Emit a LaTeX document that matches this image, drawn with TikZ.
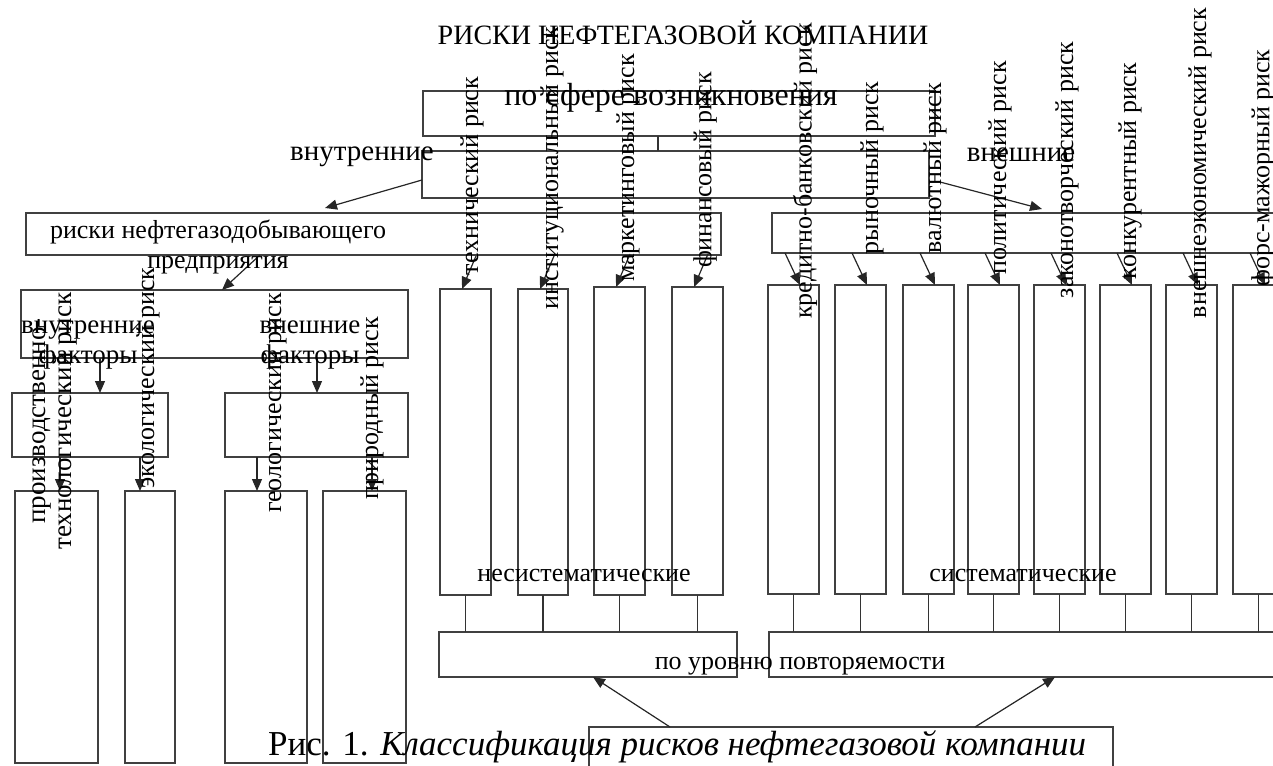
\documentclass[tikz,border=0pt]{standalone}
\usepackage{fontspec}
\setmainfont{Liberation Serif}
\usetikzlibrary{arrows.meta,calc}
\tikzset{
  box/.style={draw=black!75, line width=1.4pt, inner sep=0pt, outer sep=0pt, anchor=north west},
  arr/.style={draw=black!85, line width=1.2pt, -{Triangle[length=12pt,width=10pt]}},
  ln/.style={draw=black!80, line width=1.3pt},
  txt/.style={font=\fontsize{26}{30}\selectfont, inner sep=0pt, align=center},
  vtxt/.style={txt, rotate=90},
}
\newcommand{\bx}[5]{\node[box, minimum width=#4-#2, minimum height=#5-#3] (#1) at (#2,#3) {};}
\begin{document}
\begin{tikzpicture}[x=1pt,y=-1pt]
\useasboundingbox (0,0) rectangle (1273,765);
\clip (0,0) rectangle (1273,765);
% boxes
\bx{A}{423}{91}{935}{136}
\bx{B}{422}{151}{929}{198}
\bx{L}{26}{213}{721}{255}
\bx{R}{772}{213}{1290}{253}
\bx{F}{21}{290}{408}{358}
\bx{FL}{12}{393}{168}{457}
\bx{FR}{225}{393}{408}{457}
\bx{b1}{15}{491}{98}{763}
\bx{b2}{125}{491}{175}{763}
\bx{b3}{225}{491}{307}{763}
\bx{b4}{323}{491}{406}{763}
\bx{n1}{440}{289}{491}{595}
\bx{n2}{518}{289}{568}{595}
\bx{n3}{594}{287}{645}{595}
\bx{n4}{672}{287}{723}{595}
\bx{s1}{768}{285}{819}{594}
\bx{s2}{835}{285}{886}{594}
\bx{s3}{903}{285}{954}{594}
\bx{s4}{968}{285}{1019}{594}
\bx{s5}{1034}{285}{1085}{594}
\bx{s6}{1100}{285}{1151}{594}
\bx{s7}{1166}{285}{1217}{594}
\bx{s8}{1233}{285}{1284}{594}
\bx{UL}{439}{632}{737}{677}
\bx{UR}{769}{632}{1290}{677}
\bx{BOT}{589}{727}{1113}{790}
% connectors
\draw[ln] ($(A.south west)+(235,0)$) -- ($(B.north west)+(236,0)$);
\draw[arr] ($(B.north west)+(0,29)$) -- ($(L.north west)+(299,-5)$);
\draw[arr] ($(B.north east)+(11,31)$) -- ($(R.north west)+(270,-4)$);
\draw[arr] ($(L.south west)+(234,0)$) -- ($(F.north west)+(201,0)$);
\draw[arr] ($(F.south west)+(79,0)$) -- ($(FL.north west)+(88,0)$);
\draw[arr] ($(F.south west)+(296,0)$) -- ($(FR.north west)+(92,0)$);
\draw[arr] ($(FL.south west)+(48,0)$) -- ($(b1.north west)+(45,0)$);
\draw[arr] ($(FL.south west)+(128,0)$) -- ($(b2.north west)+(15,0)$);
\draw[arr] ($(FR.south west)+(32,0)$) -- ($(b3.north west)+(32,0)$);
\draw[arr] ($(FR.south west)+(147,0)$) -- ($(b4.north west)+(49,0)$);
\foreach \n in {n1,n2,n3,n4}{
  \draw[arr] ($(\n.north west)+(36,-33)$) -- ($(\n.north west)+(22,0)$);
}
\foreach \s in {s1,s2,s3,s4,s5,s6,s7,s8}{
  \draw[arr] ($(\s.north west)+(17,-32)$) -- ($(\s.north west)+(32,0)$);
  \draw[ln] (\s.south) -- (\s.south |- UR.north);
}
\foreach \n in {n1,n2,n3,n4}{
  \draw[ln] (\n.south) -- (\n.south |- UL.north);
}
\draw[arr] ($(BOT.north west)+(81,0)$) -- ($(UL.south west)+(154,0)$);
\draw[arr] ($(BOT.north west)+(386,0)$) -- ($(UR.south west)+(286,0)$);
% texts
\node[txt, font=\fontsize{28}{30}\selectfont] (title) at (683,33) {РИСКИ НЕФТЕГАЗОВОЙ КОМПАНИИ};
\node[txt, font=\fontsize{32}{34}\selectfont] (tA) at (671,98) {по сфере возникновения};
\node[txt, font=\fontsize{29}{30}\selectfont] (tin) at (362,157) {внутренние};
\node[txt, font=\fontsize{29}{30}\selectfont] (tout) at (1021,155) {внешние};
\node[txt] (tL) at (218,247) {риски нефтегазодобывающего\\предприятия};
\node[txt, font=\fontsize{27}{30}\selectfont] (tFi) at (88,345) {внутренние\\факторы};
\node[txt, font=\fontsize{27}{30}\selectfont] (tFo) at (310,345) {внешние\\факторы};
\node[txt] (tns) at (584,575) {несистематические};
\node[txt] (ts) at (1023,575) {систематические};
\node[txt] (tU) at (800,666) {по уровню повторяемости};
\node[font=\fontsize{35}{38}\selectfont, inner sep=0pt, anchor=west] (cap) at (268,747) {Рис. 1. \textit{Классификация рисков нефтегазовой компании}};
% vertical labels
\node[vtxt, font=\fontsize{27}{24}\selectfont] (v1) at (55,421) {производственно-\\технологический риск};
\node[vtxt] (v2) at (148,378) {экологический риск};
\node[vtxt] (v3) at (275,403) {геологический риск};
\node[vtxt] (v4) at (372,408) {природный риск};
\node[vtxt] (v5) at (472,176) {технический риск};
\node[vtxt] (v6) at (552,168) {институциональный риск};
\node[vtxt] (v7) at (628,168) {маркетинговый риск};
\node[vtxt] (v8) at (705,170) {финансовый риск};
\node[vtxt] (v9) at (805,171) {кредитно-банковский риск};
\node[vtxt] (v10) at (872,168) {рыночный риск};
\node[vtxt] (v11) at (935,168) {валютный риск};
\node[vtxt] (v12) at (1000,168) {политический риск};
\node[vtxt] (v13) at (1067,170) {законотворческий риск};
\node[vtxt] (v14) at (1130,171) {конкурентный риск};
\node[vtxt] (v15) at (1200,163) {внешнеэкономический риск};
\node[vtxt] (v16) at (1263,168) {форс-мажорный риск};
\end{tikzpicture}
\end{document}
